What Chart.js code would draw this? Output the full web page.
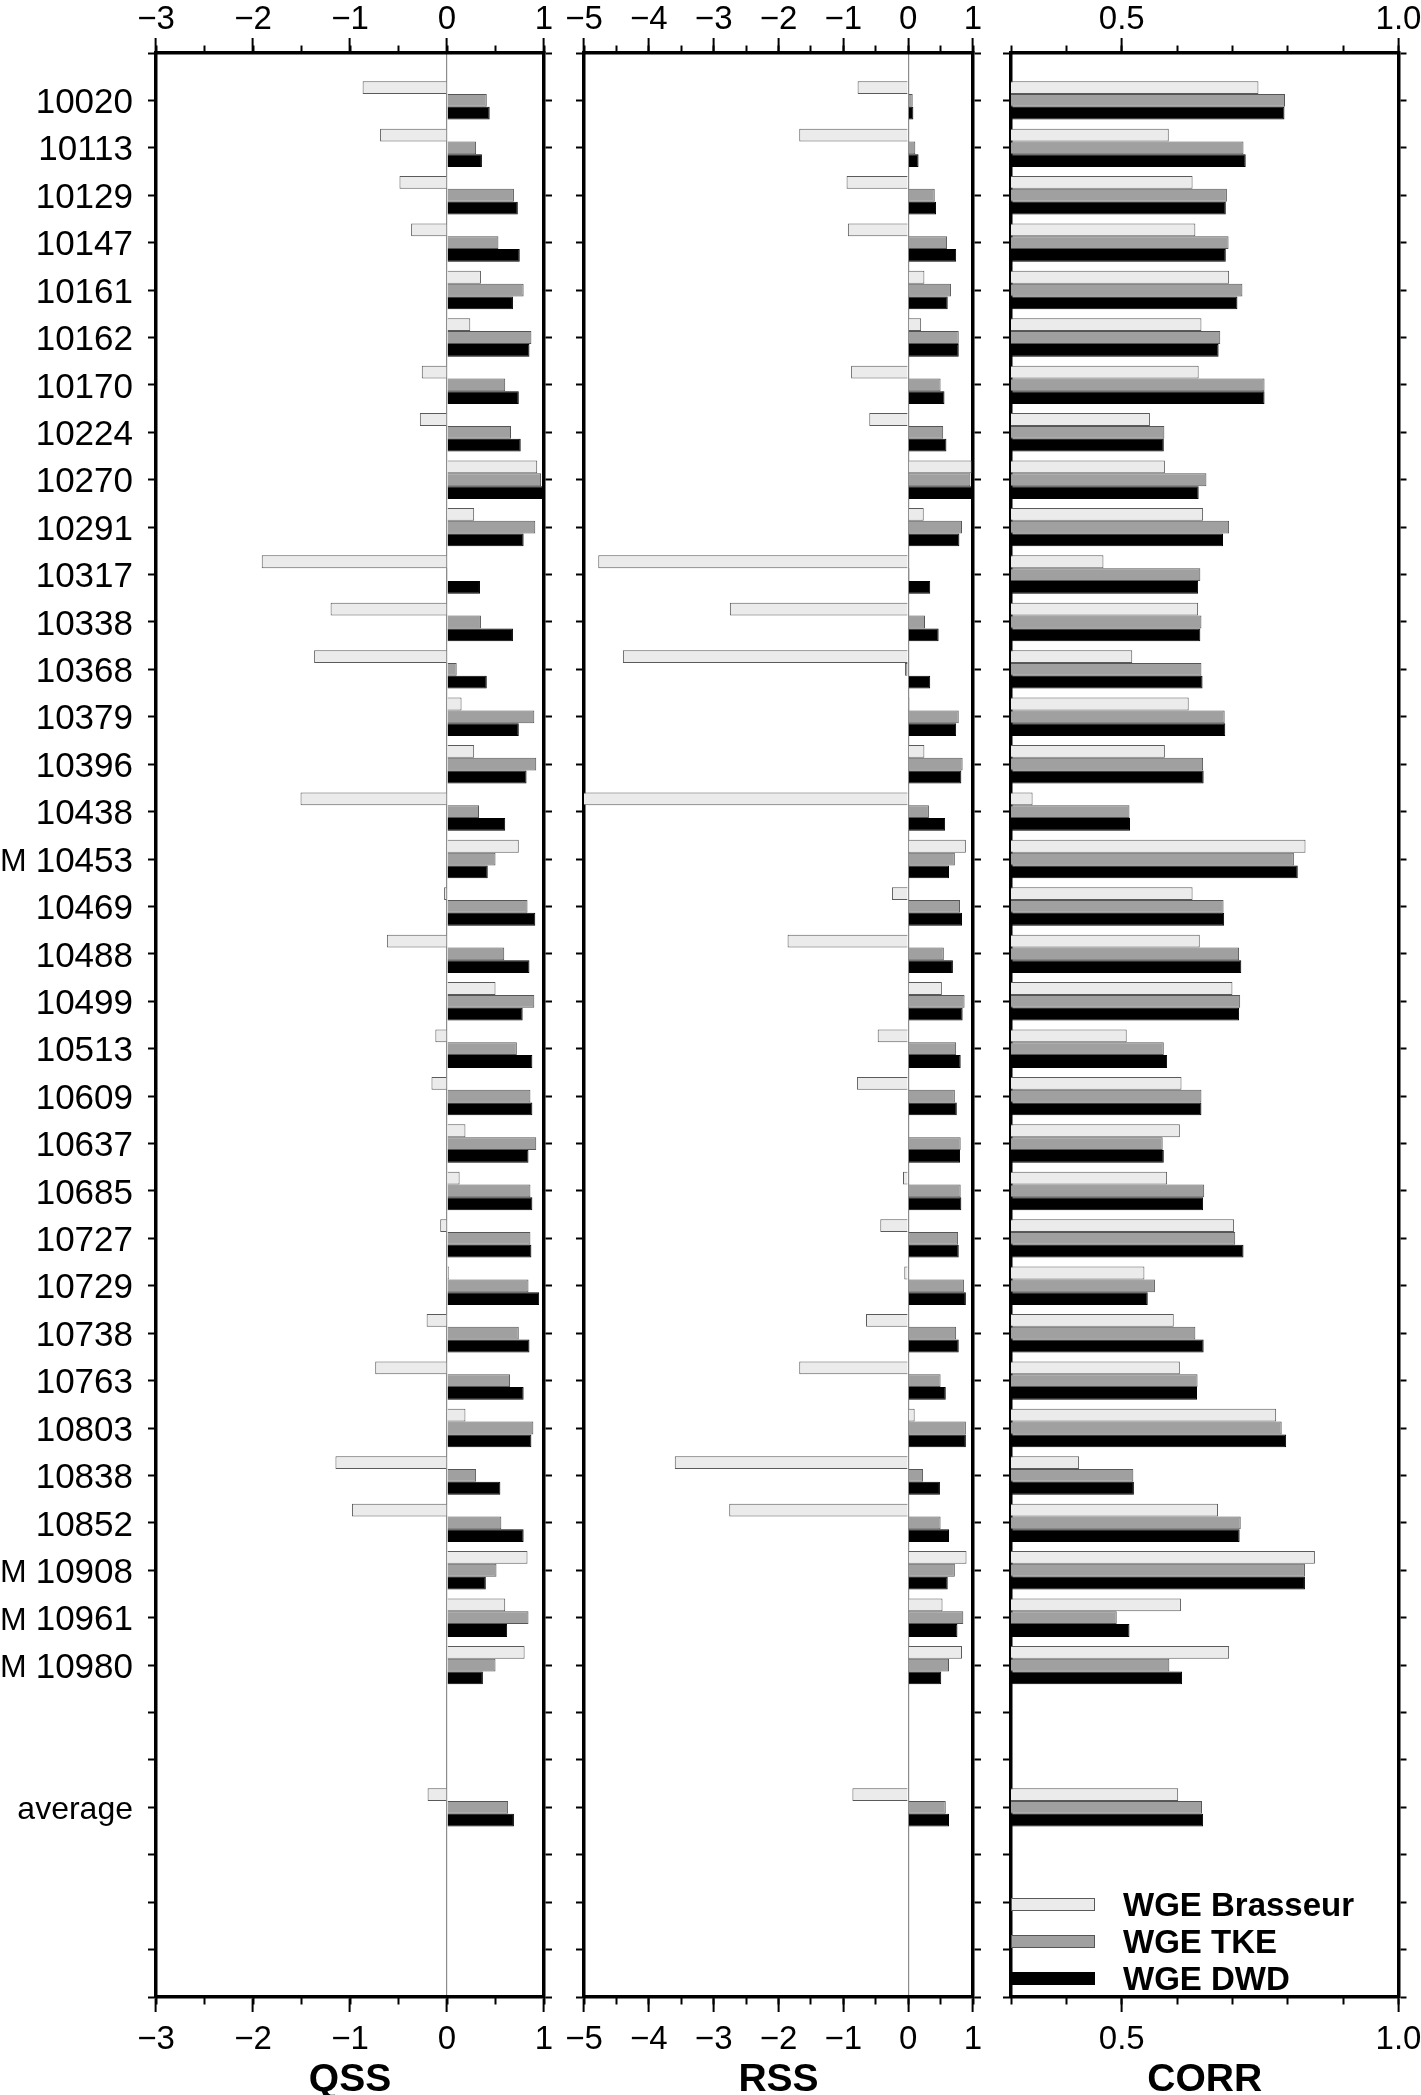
<!DOCTYPE html>
<html>
<head>
<meta charset="utf-8">
<script src="https://cdn.jsdelivr.net/npm/chart.js@4.4.1/dist/chart.umd.min.js"></script>
<style>
html,body{margin:0;padding:0;background:#fff;overflow:hidden;}
#wrap{position:relative;width:1421px;height:2095px;overflow:hidden;}
#wrap canvas{position:absolute;top:0;}
#legend{position:absolute;left:1011px;top:1886px;font:bold 33px 'Liberation Sans',Arial,Helvetica,sans-serif;color:#000;}
#legend .item{height:37px;display:flex;align-items:center;white-space:nowrap;}
#legend .sw{width:84px;height:13px;box-sizing:border-box;border:1px solid #555;margin-right:28px;}
</style>
</head>
<body>
<div id="wrap">
  <canvas id="c1"></canvas>
  <canvas id="c2"></canvas>
  <canvas id="c3"></canvas>
  <div id="legend"></div>
</div>
<script>
// ---------------- data ----------------
const stations = ['10020','10113','10129','10147','10161','10162','10170','10224','10270','10291',
  '10317','10338','10368','10379','10396','10438','10453','10469','10488','10499',
  '10513','10609','10637','10685','10727','10729','10738','10763','10803','10838',
  '10852','10908','10961','10980'];
const markedStations = ['10453','10908','10961','10980'];
const markText = 'M';
const categories = [...stations, 'average'];
const rowLabels = ['', ...stations, '', '', 'average', '', '', '', ''];

const seriesNames = ['WGE Brasseur', 'WGE TKE', 'WGE DWD'];

// QSS (last value = average)
const qssBrasseur = [-0.87,-0.69,-0.49,-0.37,0.35,0.24,-0.26,-0.28,0.93,0.28,
  -1.91,-1.20,-1.37,0.15,0.28,-1.51,0.74,-0.03,-0.62,0.50,
  -0.12,-0.16,0.19,0.13,-0.07,0.02,-0.21,-0.74,0.19,-1.15,
  -0.98,0.83,0.60,0.80, -0.20];
const qssTKE = [0.41,0.30,0.69,0.53,0.79,0.87,0.60,0.66,0.97,0.91,
  0.01,0.35,0.10,0.90,0.92,0.33,0.50,0.83,0.59,0.90,
  0.72,0.86,0.92,0.86,0.86,0.84,0.74,0.65,0.89,0.30,
  0.56,0.51,0.84,0.50, 0.63];
const qssDWD = [0.44,0.36,0.73,0.75,0.68,0.85,0.74,0.76,1.00,0.79,
  0.34,0.68,0.41,0.74,0.82,0.60,0.42,0.91,0.85,0.78,
  0.88,0.88,0.84,0.88,0.87,0.95,0.85,0.79,0.87,0.55,
  0.79,0.40,0.62,0.37, 0.69];

// RSS
const rssBrasseur = [-0.78,-1.68,-0.95,-0.93,0.25,0.20,-0.88,-0.60,0.98,0.24,
  -4.78,-2.75,-4.40,0.02,0.25,-5.10,0.89,-0.25,-1.86,0.52,
  -0.47,-0.79,0.01,-0.08,-0.43,-0.06,-0.65,-1.68,0.10,-3.60,
  -2.76,0.90,0.53,0.83, -0.86];
const rssTKE = [0.07,0.11,0.41,0.60,0.66,0.78,0.50,0.54,0.96,0.83,
  0.02,0.26,-0.05,0.78,0.84,0.32,0.72,0.80,0.55,0.87,
  0.74,0.72,0.81,0.81,0.77,0.86,0.74,0.50,0.89,0.23,
  0.50,0.72,0.85,0.63, 0.58];
const rssDWD = [0.08,0.16,0.43,0.74,0.61,0.78,0.56,0.59,0.99,0.79,
  0.34,0.47,0.34,0.74,0.82,0.57,0.63,0.83,0.69,0.84,
  0.81,0.75,0.80,0.82,0.78,0.89,0.78,0.58,0.89,0.49,
  0.63,0.61,0.76,0.51, 0.63];

// CORR
const corrBrasseur = [0.747,0.585,0.628,0.633,0.694,0.644,0.639,0.551,0.578,0.647,
  0.467,0.638,0.519,0.621,0.578,0.339,0.832,0.628,0.641,0.700,
  0.509,0.608,0.605,0.582,0.703,0.541,0.594,0.605,0.779,0.423,
  0.674,0.849,0.607,0.694, 0.602];
const corrTKE = [0.795,0.720,0.690,0.693,0.718,0.678,0.758,0.577,0.653,0.694,
  0.642,0.644,0.644,0.686,0.647,0.514,0.811,0.684,0.712,0.714,
  0.576,0.644,0.574,0.649,0.705,0.560,0.633,0.637,0.789,0.521,
  0.715,0.831,0.491,0.586, 0.645];
const corrDWD = [0.794,0.724,0.688,0.688,0.709,0.675,0.758,0.576,0.639,0.683,
  0.638,0.642,0.646,0.687,0.648,0.515,0.818,0.685,0.716,0.712,
  0.582,0.644,0.576,0.647,0.720,0.547,0.648,0.636,0.797,0.522,
  0.713,0.831,0.514,0.609, 0.647];

const qssTicks = {min: -3, max: 1, major: 1, minor: 0.5};
const rssTicks = {min: -5, max: 1, major: 1, minor: 0.5};
const corrTicks = {min: 0.3, max: 1.0, major: 0.5, minor: 0.1};

// ---------------- styling ----------------
const FAMILY = "'Liberation Sans', Arial, Helvetica, sans-serif";
Chart.defaults.font.family = FAMILY;
Chart.defaults.color = '#000';
const fills = ['#ebebeb', '#a0a0a0', '#000000'];
const borders = ['#5a5a5a', '#555555', '#000000'];
const H = 2095, TOP_H = 53, BOT_H = 98;

function toRows(vals) {
  return rowLabels.map(l => l === '' ? null : vals[categories.indexOf(l)]);
}
function fmtInt(v) { return v < 0 ? '\u2212' + Math.abs(v) : String(v); }
function fmtCorr(v) { return v.toFixed(1); }

// draws the "M" marker left of flagged station labels, positioned via the y scale
const markPlugin = {
  id: 'stationMark',
  afterDraw(chart, args, opts) {
    if (!opts || !opts.enabled) return;
    const ys = chart.scales.y, ctx = chart.ctx;
    ctx.save();
    ctx.font = '32px ' + FAMILY;
    ctx.fillStyle = '#000';
    ctx.textAlign = 'left';
    ctx.textBaseline = 'middle';
    markedStations.forEach(st => {
      const idx = rowLabels.indexOf(st);
      if (idx >= 0) ctx.fillText(markText, 0, ys.getPixelForValue(idx) + 3);
    });
    ctx.restore();
  }
};

function makePanel(id, left, width, leftW, rightW, rng, title, series, showLabels, zeroLine, fmt) {
  const cv = document.getElementById(id);
  cv.style.left = left + 'px';
  cv.style.width = width + 'px';
  cv.style.height = H + 'px';
  cv.width = width; cv.height = H;

  const yBase = (pos, w, labels) => ({
    type: 'category', position: pos, offset: false, z: 1,
    grid: {offset: false, drawOnChartArea: false, drawTicks: true, tickLength: 8, tickWidth: 2, tickColor: '#000'},
    border: {display: true, width: 3.5, color: '#000'},
    ticks: {display: labels, autoSkip: false, padding: 15, labelOffset: 3, color: '#000',
      font: c => ({size: (c.tick && c.tick.label === 'average') ? 32 : 35})},
    afterFit: s => { s.width = w; }
  });
  const xMajor = (pos, h, pad, withTitle, grid) => ({
    type: 'linear', position: pos, weight: 1, min: rng.min, max: rng.max, z: 1,
    ticks: {stepSize: rng.major, includeBounds: false, autoSkip: false, maxRotation: 0,
      padding: pad, font: {size: 33}, color: '#000', callback: fmt},
    grid: {drawOnChartArea: grid, drawTicks: true, tickLength: 15, tickWidth: 2, tickColor: '#000',
      lineWidth: 1.2,
      color: c => (c.tick && Math.abs(c.tick.value) < 1e-9) ? '#8c8c8c' : 'rgba(0,0,0,0)'},
    border: {display: true, width: 3.5, color: '#000'},
    title: {display: withTitle, text: title, color: '#000', padding: 0,
      font: {size: 39, weight: 'bold', lineHeight: 0.75}},
    afterFit: s => { s.height = h; }
  });
  const xMinor = (pos) => ({
    type: 'linear', position: pos, weight: 0, min: rng.min, max: rng.max, z: 1,
    ticks: {stepSize: rng.minor, display: false, autoSkip: false},
    grid: {drawOnChartArea: false, drawTicks: true, tickLength: 7.5, tickWidth: 2, tickColor: '#000'},
    border: {display: false},
    afterFit: s => { s.height = 0; }
  });

  return new Chart(cv, {
    type: 'bar',
    data: {
      labels: rowLabels,
      datasets: series.map((vals, i) => ({
        label: seriesNames[i],
        data: toRows(vals),
        backgroundColor: fills[i],
        borderColor: borders[i],
        borderWidth: 1,
        categoryPercentage: 0.81,
        barPercentage: 1.0,
        clip: 0,
        xAxisID: 'x',
        yAxisID: 'y'
      }))
    },
    options: {
      responsive: false,
      animation: false,
      indexAxis: 'y',
      layout: {padding: 0},
      plugins: {legend: {display: false}, tooltip: {enabled: false}, stationMark: {enabled: showLabels}},
      scales: {
        y: yBase('left', leftW, showLabels),
        yR: yBase('right', rightW, false),
        x: xMajor('bottom', BOT_H, 8, true, zeroLine),
        xMinorB: xMinor('bottom'),
        xTop: xMajor('top', TOP_H, -2, false, false),
        xMinorT: xMinor('top')
      }
    },
    plugins: [markPlugin]
  });
}

makePanel('c1', 0, 570, 156, 26, qssTicks, 'QSS', [qssBrasseur, qssTKE, qssDWD], true, true, fmtInt);
makePanel('c2', 554, 446, 30, 27, rssTicks, 'RSS', [rssBrasseur, rssTKE, rssDWD], false, true, fmtInt);
makePanel('c3', 985, 450, 26, 36.5, corrTicks, 'CORR', [corrBrasseur, corrTKE, corrDWD], false, false, fmtCorr);

// legend (HTML text)
const lg = document.getElementById('legend');
seriesNames.forEach((n, i) => {
  const it = document.createElement('div'); it.className = 'item';
  const sw = document.createElement('div'); sw.className = 'sw';
  sw.style.background = fills[i]; sw.style.borderColor = borders[i];
  const tx = document.createElement('span'); tx.textContent = n;
  it.appendChild(sw); it.appendChild(tx); lg.appendChild(it);
});
</script>
</body>
</html>
